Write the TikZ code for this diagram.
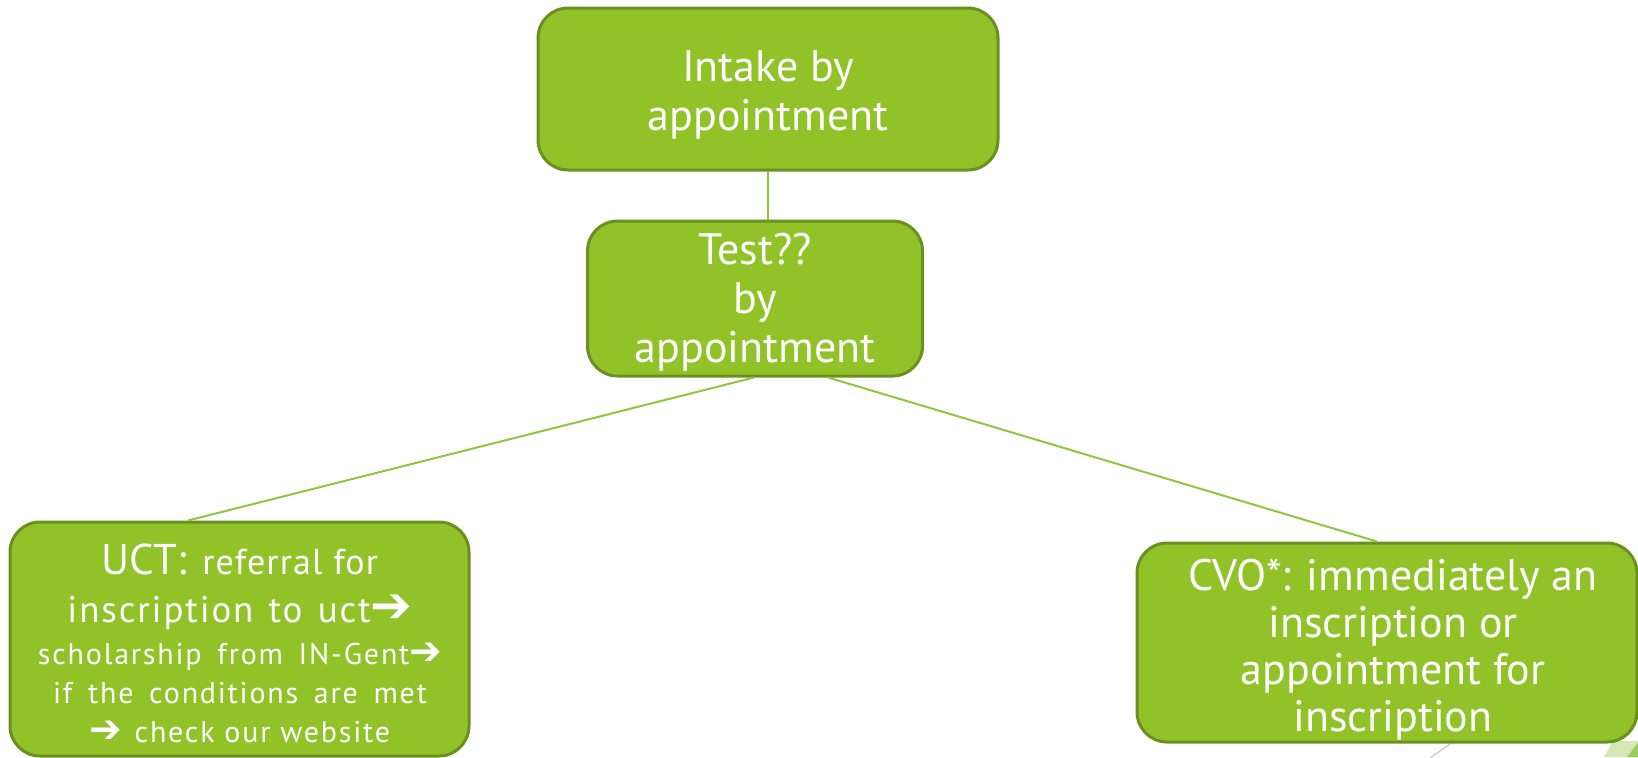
\documentclass[tikz,border=0pt]{standalone}
\usepackage{fontspec}
\setmainfont{PT Sans}
\newfontfamily\arrowfont{DejaVu Sans}
\newfontfamily\spacedA[LetterSpace=3]{PT Sans}
\newfontfamily\spacedB[LetterSpace=5,WordSpace=1.3]{PT Sans}
\newfontfamily\spacedC[LetterSpace=6,WordSpace=1.6]{PT Sans}
\definecolor{boxfill}{HTML}{91C227}
\definecolor{boxline}{HTML}{6A9020}
\definecolor{linkc}{HTML}{8DC63F}
\definecolor{decolight}{HTML}{D3E8B4}
\definecolor{decodark}{HTML}{9ACD5A}
\definecolor{decogray}{HTML}{C8C8C8}
\newcommand{\rarr}{{\arrowfont\scalebox{1.3}{➔}}}
\newcommand{\rarrbig}{{\arrowfont\scalebox{1.35}{➔}}}
\newcommand{\uctbig}{\fontsize{21.5}{24}\selectfont}
\newcommand{\uctmid}{\spacedA\fontsize{18}{20}\selectfont}
\newcommand{\uctmidb}{\spacedB\fontsize{18.5}{20}\selectfont}
\newcommand{\uctsmall}{\spacedC\fontsize{15}{19.5}\selectfont}
\begin{document}
\begin{tikzpicture}[x=0.5pt,y=-0.5pt,
  box/.style={draw=boxline, line width=1.5pt, fill=boxfill, rounded corners=15pt, inner sep=0pt},
  txt/.style={text=white, align=center, inner sep=0pt},
  bigtxt/.style={txt, font=\fontsize{22}{24.5}\selectfont},
  link/.style={draw=linkc, line width=1pt}]
\useasboundingbox (0,0) rectangle (1638,757);
% slide decoration, bottom right
\fill[decolight] (1604,757) -- (1613,741) -- (1638,741) -- (1638,757) -- cycle;
\fill[decodark] (1627,757) -- (1638,743) -- (1638,757) -- cycle;
\draw[decogray, line width=0.6pt] (1430,758) -- (1456,740);
% boxes
\node[box, minimum width=230pt, minimum height=81pt] (intake) at (768,89) {};
\node[box, minimum width=167.5pt, minimum height=77.5pt] (test) at (755,298.5) {};
\node[box, minimum width=229.5pt, minimum height=117pt] (uct) at (239.5,639) {};
\node[box, minimum width=250pt, minimum height=99.5pt] (cvo) at (1387,642.5) {};
% connectors
\draw[link] (intake.south) -- (intake.south |- test.north);
\draw[link] ([xshift=-0.5pt]test.south) -- ([xshift=-25.75pt]uct.north);
\draw[link] ([xshift=36.5pt]test.south) -- ([xshift=-5pt]cvo.north);
% texts
\node[bigtxt] (intaketext) at (768,95) {Intake by\\appointment};
\node[bigtxt] (testtext) at (755,302) {Test??\\by\\appointment};
\node[txt, font=\uctsmall] (ucttext) at (240,643)
  {{\rmfamily\uctbig UCT:} {\uctmid referral for}\\[4.5pt]
   {\uctmidb inscription to uct\rarrbig}\\[1.5pt]
   scholarship from IN-Gent\rarr\\
   if the conditions are met\\
   \rarr\hspace{6pt}{\rmfamily\fontsize{15}{19.5}\selectfont\addfontfeature{LetterSpace=6} check our website}};
\node[txt, font=\fontsize{22}{23.5}\selectfont] (cvotext) at (1393,650)
  {CVO*: immediately an\\inscription or\\appointment for\\inscription};
\end{tikzpicture}
\end{document}
